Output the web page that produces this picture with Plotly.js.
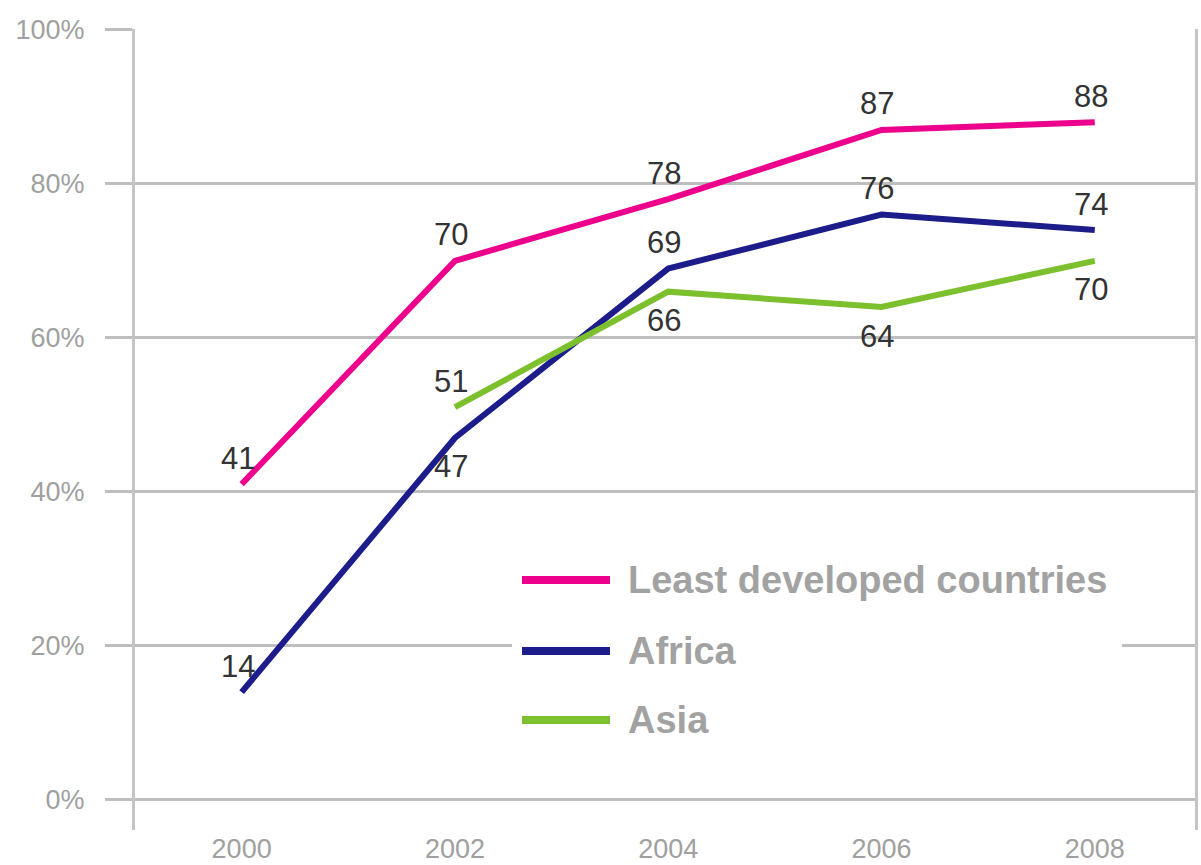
<!DOCTYPE html>
<html>
<head>
<meta charset="utf-8">
<script src="https://cdn.plot.ly/plotly-3.0.1.min.js"></script>
<style>html,body{margin:0;padding:0;background:#fff;}#chart{width:1201px;height:865px;}</style>
</head>
<body>
<div id="chart"></div>
<script>
// ---- data ----
const years = [2000, 2002, 2004, 2006, 2008];
const ldcValues = [41, 70, 78, 87, 88];
const africaValues = [14, 47, 69, 76, 74];
const asiaYears = [2002, 2004, 2006, 2008];
const asiaValues = [51, 66, 64, 70];
const seriesNames = ['Least developed countries', 'Africa', 'Asia'];
const yTickValues = [0, 20, 40, 60, 80, 100];
const yTickLabels = ['0%', '20%', '40%', '60%', '80%', '100%'];

// ---- styling / label placement ----
const colors = ['#EC008C', '#1C1C8A', '#7DC02E'];
const labelSide = [
  ['above', 'above', 'above', 'above', 'above'],
  ['above', 'below', 'above', 'above', 'above'],
  ['above', 'below', 'below', 'below']
];
const series = [
  {x: years, y: ldcValues},
  {x: years, y: africaValues},
  {x: asiaYears, y: asiaValues}
];

const traces = series.map((s, i) => ({
  type: 'scatter', mode: 'lines', x: s.x, y: s.y, name: seriesNames[i],
  line: {color: colors[i], width: 6}, hoverinfo: 'skip', showlegend: false
}));

const annotations = [];
series.forEach((s, i) => {
  s.x.forEach((xv, j) => {
    const above = labelSide[i][j] === 'above';
    annotations.push({
      x: xv, y: s.y[j], xref: 'x', yref: 'y', text: String(s.y[j]),
      showarrow: false, xshift: -4, yshift: above ? 26 : -29,
      font: {family: 'Liberation Sans, Arial, sans-serif', size: 31, color: '#333333'}
    });
  });
});

// manual legend (long line swatches like the original)
const plotL = 135, plotR = 1195, plotT = 29, plotB = 830;
const px = v => (v - plotL) / (plotR - plotL);
const py = v => (plotB - v) / (plotB - plotT);
const shapes = [
  {type: 'rect', xref: 'paper', yref: 'paper', x0: px(512), x1: px(1122), y0: py(752), y1: py(550),
   fillcolor: '#ffffff', line: {width: 0}, layer: 'above'}
];
const legendRows = [580, 651, 720];
seriesNames.forEach((n, i) => {
  shapes.push({type: 'line', xref: 'paper', yref: 'paper', x0: px(522), x1: px(610),
    y0: py(legendRows[i]), y1: py(legendRows[i]), line: {color: colors[i], width: 8}, layer: 'above'});
  annotations.push({xref: 'paper', yref: 'paper', x: px(626), y: py(legendRows[i]),
    xanchor: 'left', yanchor: 'middle', text: n, showarrow: false,
    font: {family: 'Liberation Sans, Arial, sans-serif', size: 38, color: '#a2a2a2', weight: 'bold'}});
});

const tickFont = {family: 'Liberation Sans, Arial, sans-serif', size: 27, color: '#a0a0a0'};

const layout = {
  width: 1201, height: 865,
  margin: {l: plotL, r: 1201 - plotR, t: plotT, b: 865 - plotB},
  paper_bgcolor: '#ffffff', plot_bgcolor: '#ffffff',
  showlegend: false,
  xaxis: {
    range: [1999.0, 2008.94], tickvals: years, ticktext: years.map(String),
    showgrid: false, zeroline: false, showline: false, ticks: '',
    tickfont: tickFont, fixedrange: true
  },
  yaxis: {
    range: [-3.9, 100.1], tickvals: yTickValues, ticktext: yTickLabels,
    showgrid: true, gridcolor: '#BEBEBE', gridwidth: 3,
    zeroline: true, zerolinecolor: '#BEBEBE', zerolinewidth: 3,
    showline: true, linecolor: '#C4C4C4', linewidth: 3, mirror: true,
    ticks: 'outside', ticklen: 27, tickwidth: 3, tickcolor: '#BEBEBE',
    ticklabelstandoff: 15,
    tickfont: tickFont, fixedrange: true
  },
  shapes: shapes,
  annotations: annotations
};

Plotly.newPlot('chart', traces, layout, {displayModeBar: false, staticPlot: true});
</script>
</body>
</html>
